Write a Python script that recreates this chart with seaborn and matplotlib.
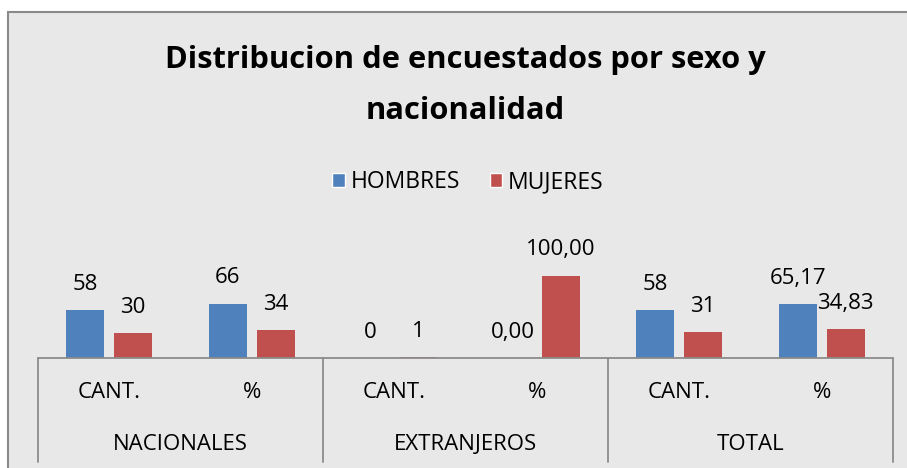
import matplotlib
matplotlib.use("Agg")
import matplotlib.pyplot as plt
import seaborn as sns
import pandas as pd
from matplotlib.patches import Rectangle
from matplotlib.lines import Line2D

categories = ["CANT.", "%", "CANT.", "%", "CANT.", "%"]
groups = ["NACIONALES", "EXTRANJEROS", "TOTAL"]
hombres = [58, 66, 0, 0.00, 58, 65.17]
mujeres = [30, 34, 1, 100.00, 31, 34.83]
hombres_labels = ["58", "66", "0", "0,00", "58", "65,17"]
mujeres_labels = ["30", "34", "1", "100,00", "31", "34,83"]
series = ["HOMBRES", "MUJERES"]
colors = ["#4F81BD", "#C0504D"]

slots = [f"{g}|{c}" for g in groups for c in ["CANT.", "%"]]
df = pd.DataFrame({
    "slot": slots * 2,
    "valor": hombres + mujeres,
    "sexo": [series[0]] * 6 + [series[1]] * 6,
})

sns.set_theme(style="white")
plt.rcParams["font.family"] = ["Open Sans", "DejaVu Sans"]
plt.rcParams["text.color"] = "black"

W, H = 907, 468
fig = plt.figure(figsize=(W / 100, H / 100), dpi=100)
fig.patch.set_facecolor("white")

# chart area with frame
bg = Rectangle((8 / W, -0.1), 1.2, (H - 12) / H + 0.1, transform=fig.transFigure,
               facecolor="#e8e8e8", edgecolor="#8a8a8a", linewidth=1.5, zorder=-5)
fig.patches.append(bg)

base_px = 358
scale = 0.823  # px per unit
ymax = 120
ax = fig.add_axes([38 / W, (H - base_px) / H, 855 / W, ymax * scale / H])
ax.set_facecolor("none")
ax.set_zorder(2)

sns.barplot(data=df, x="slot", y="valor", hue="sexo", order=slots,
            hue_order=series, palette=colors, width=0.67, gap=0.2,
            saturation=1, linewidth=0, ax=ax, legend=False)
ax.set_xlim(-0.5, 5.5)
ax.set_ylim(0, ymax)
for s in ax.spines.values():
    s.set_visible(False)
ax.set_xticks([])
ax.set_yticks([])
ax.set_xlabel("")
ax.set_ylabel("")

# data labels
for cont, labs in zip(ax.containers, [hombres_labels, mujeres_labels]):
    ax.bar_label(cont, labels=labs, padding=11, fontsize=16, color="black")

# category axis structure
tr = ax.get_xaxis_transform()
axis_col = "#8c8c8c"
ax.add_line(Line2D([-0.5, 5.5], [0, 0], transform=tr, color=axis_col, lw=1.3, clip_on=False))
bottom_y = -(462 - base_px) / (ymax * scale)
for xv in [-0.5, 1.5, 3.5, 5.5]:
    ax.add_line(Line2D([xv, xv], [0, bottom_y], transform=tr, color=axis_col, lw=1.3, clip_on=False))

y_cat = -(393 - base_px) / (ymax * scale)
y_grp = -(445 - base_px) / (ymax * scale)
for i, c in enumerate(categories):
    ax.text(i, y_cat, c, transform=tr, ha="center", va="center", fontsize=16, color="black")
for j, g in enumerate(groups):
    ax.text(2 * j + 0.5, y_grp, g, transform=tr, ha="center", va="center", fontsize=16, color="black")

# title
fig.text(465 / W, 1 - 60 / H, "Distribucion de encuestados por sexo y", ha="center",
         va="center", fontsize=22.2, fontweight="bold", color="black")
fig.text(465 / W, 1 - 111 / H, "nacionalidad", ha="center", va="center",
         fontsize=22.2, fontweight="bold", color="black")

# legend
handles = [Rectangle((0, 0), 1, 1, facecolor=c) for c in colors]
leg = fig.legend(handles, series, loc="center", bbox_to_anchor=(468 / W, 1 - 182 / H),
                 ncol=2, frameon=False, fontsize=16.5, handlelength=0.55, handleheight=0.55,
                 handletextpad=0.25, columnspacing=1.3)
for t in leg.get_texts():
    t.set_color("black")

fig.savefig("out.png", dpi=100)
